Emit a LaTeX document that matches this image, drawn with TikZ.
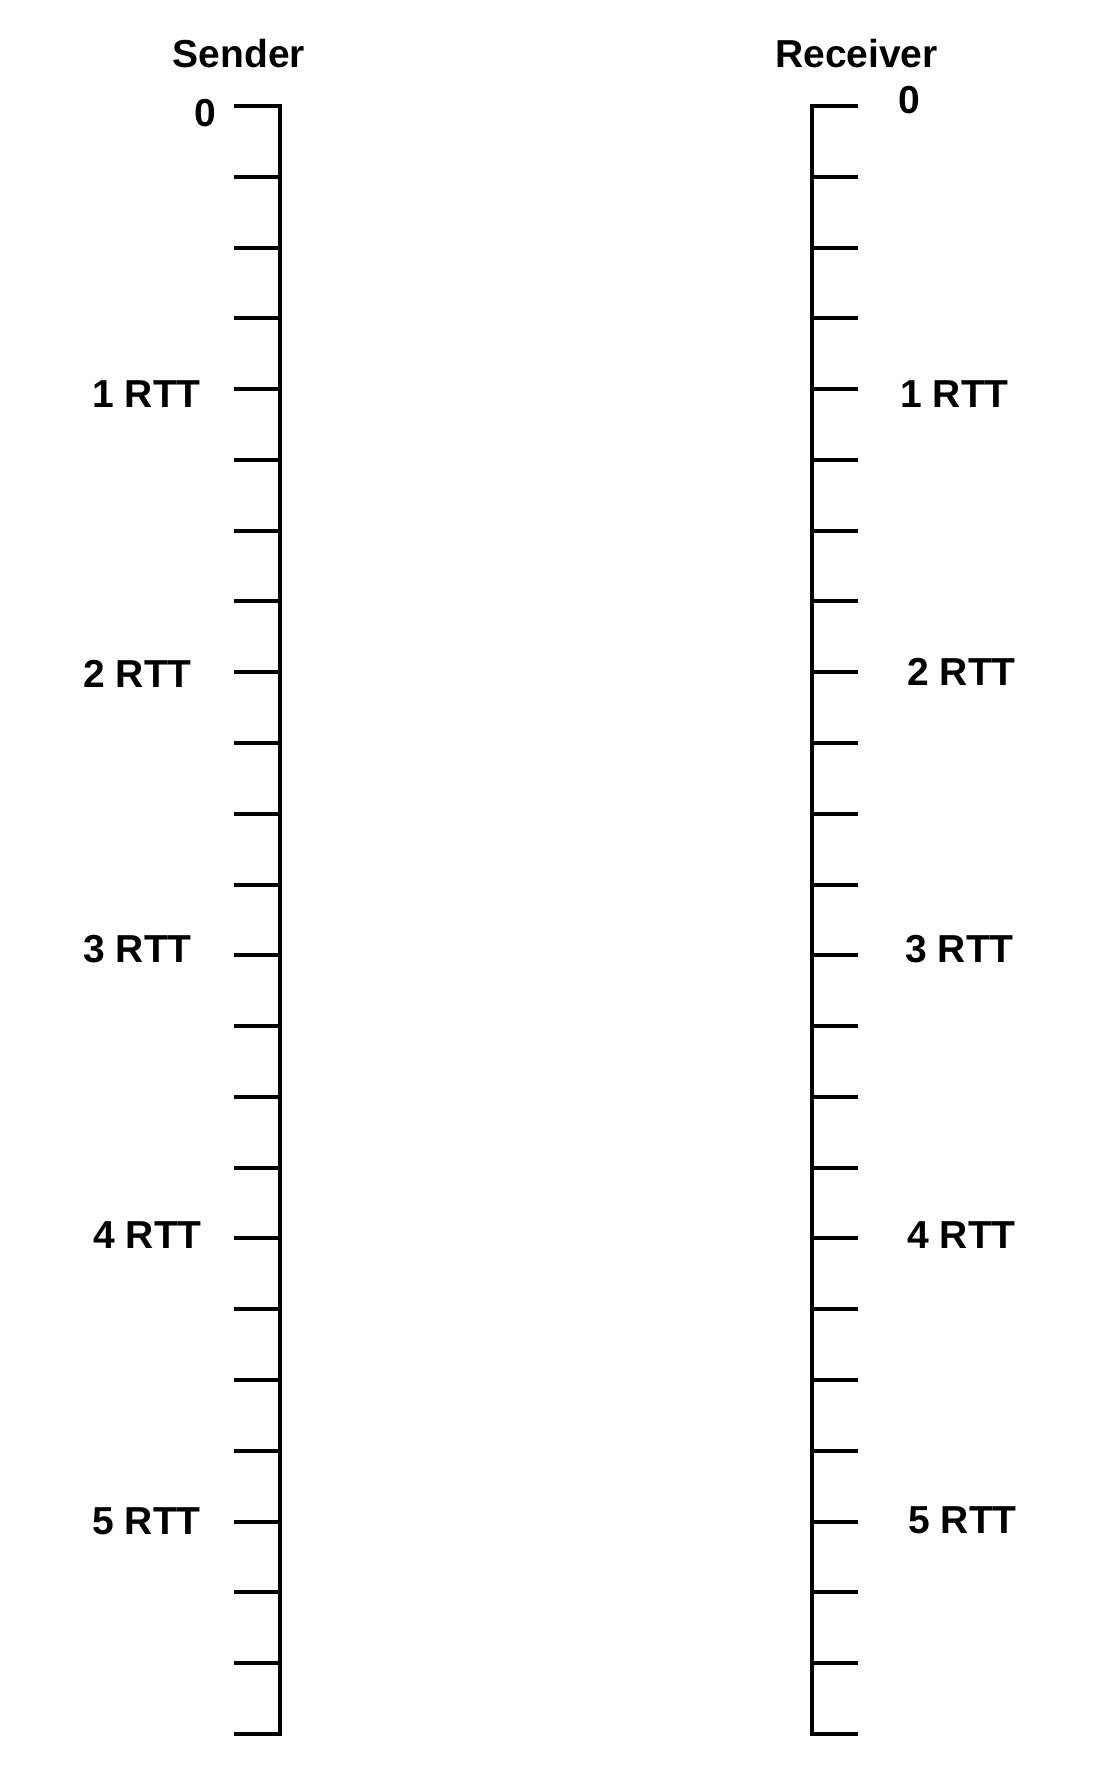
\documentclass[tikz,border=0pt]{standalone}
\usepackage{fontspec}
\setmainfont{Liberation Sans}
\begin{document}
\begin{tikzpicture}[x=0.5pt,y=-0.5pt,
	axis/.style={line width=2pt,line cap=rect},
	tick/.style={line width=2pt},
	lbl/.style={font=\fontsize{19.5}{24}\selectfont\bfseries,inner sep=0pt}]
	\useasboundingbox (0,0) rectangle (1110,1768);
	% the two time lines
	\coordinate (stop) at (279.5,106);
	\coordinate (sbot) at (279.5,1734);
	\coordinate (rtop) at (812,106);
	\coordinate (rbot) at (812,1734);
	\draw[axis] (stop) -- (sbot);
	\draw[axis] (rtop) -- (rbot);
	\foreach \i in {0,...,23}{
		\draw[tick] (234,106+70.78*\i) -- (279.5,106+70.78*\i);
		\draw[tick] (812,106+70.78*\i) -- (858,106+70.78*\i);
	}
	\node[lbl,anchor=base] (sender) at (239,67) {Sender};
	\node[lbl,anchor=base] (receiver) at (856.5,67) {Receiver};
	\node[lbl,anchor=base] (s0) at (205,126) {0};
	\node[lbl,anchor=base] (r0) at (909,113) {0};
	\foreach \n/\sx/\sy/\rx/\ry in {1/92/407/900/407,2/83/687/907/685,3/83/962/905/962,4/93/1248/907/1248,5/92/1534/908/1533}{
		\node[lbl,anchor=base west] (s\n) at (\sx,\sy) {\n\ RTT};
		\node[lbl,anchor=base west] (r\n) at (\rx,\ry) {\n\ RTT};
	}
\end{tikzpicture}
\end{document}
